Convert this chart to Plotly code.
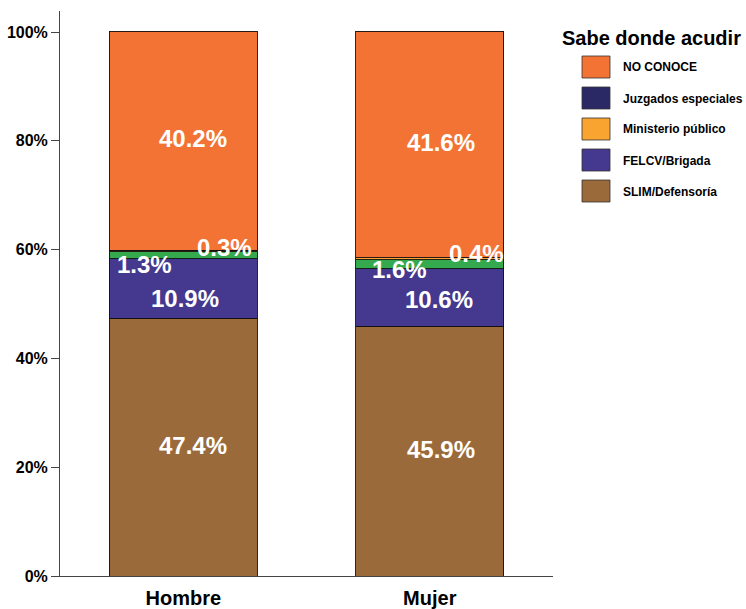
import plotly.graph_objects as go

# Data
groups = ["Hombre", "Mujer"]
slim = [47.4, 45.9]
felcv = [10.9, 10.6]
otros = [1.3, 1.6]
ministerio = [0.3, 0.4]
no_conoce = [40.2, 41.6]

y_ticks = [0, 20, 40, 60, 80, 100]
y_ticklabels = ["0%", "20%", "40%", "60%", "80%", "100%"]

legend_title = "Sabe donde acudir"
legend_names = ["NO CONOCE", "Juzgados especiales", "Ministerio público", "FELCV/Brigada", "SLIM/Defensoría"]
legend_colors = ["#F37335", "#2A2966", "#F9A431", "#45388F", "#9A6A3A"]

# Stack order (bottom to top)
series = [
    ("SLIM/Defensoría", slim, "#9A6A3A"),
    ("FELCV/Brigada", felcv, "#45388F"),
    ("Otros", otros, "#35A94E"),
    ("Ministerio público", ministerio, "#F9A431"),
    ("NO CONOCE", no_conoce, "#F37335"),
]

W, H = 746, 609
ml, mr, mt, mb = 60, 193, 11, 33
pw, ph = W - ml - mr, H - mt - mb


def px_to_paper(px, py):
    return (px - ml) / pw, (H - mb - py) / ph


fig = go.Figure()
for name, vals, col in series:
    fig.add_trace(go.Bar(
        x=groups, y=vals, name=name, width=0.6,
        marker=dict(color=col, line=dict(color="#111111", width=0.9)),
        showlegend=False, hoverinfo="skip",
    ))

# Label placement per series and group: (anchor, xshift px, yshift px)
label_style = {
    "SLIM/Defensoría": [("center", 10, 2), ("center", 11, 2)],
    "FELCV/Brigada": [("center", 2, -10), ("center", 9, -2)],
    "Otros": [("left", -68, -9), ("left", -60, -5)],
    "Ministerio público": [("right", 71, 3), ("right", 76, 5)],
    "NO CONOCE": [("center", 10, 2), ("center", 11, 2)],
}

annotations = []
base = [0.0] * len(groups)
for name, vals, col in series:
    for i, v in enumerate(vals):
        mid = base[i] + v / 2
        anchor, xs, ys = label_style[name][i]
        annotations.append(dict(
            x=i, y=mid, xref="x", yref="y", text=f"{v:.1f}%",
            showarrow=False, xanchor=anchor, yanchor="middle", xshift=xs, yshift=ys,
            font=dict(family="Liberation Sans", size=24, color="white", weight="bold"),
        ))
        base[i] += v

# Legend drawn in paper space
shapes = []
tx, ty = px_to_paper(560, 38)
annotations.append(dict(
    x=tx, y=ty, xref="paper", yref="paper", text=legend_title, showarrow=False,
    xanchor="left", yanchor="middle",
    font=dict(family="Liberation Sans", size=20, color="black", weight="bold"),
))
for k, (nm, col) in enumerate(zip(legend_names, legend_colors)):
    top = 56 + 31 * k
    x0, y1 = px_to_paper(582, top)
    x1, y0 = px_to_paper(610, top + 22)
    shapes.append(dict(type="rect", xref="paper", yref="paper", x0=x0, x1=x1, y0=y0, y1=y1,
                       fillcolor=col, line=dict(color="#333333", width=0.8)))
    lx, ly = px_to_paper(621, top + 11.5)
    annotations.append(dict(
        x=lx, y=ly, xref="paper", yref="paper", text=nm, showarrow=False,
        xanchor="left", yanchor="middle",
        font=dict(family="Liberation Sans", size=12, color="black", weight="bold"),
    ))

fig.update_layout(
    barmode="stack",
    width=W, height=H,
    margin=dict(l=ml, r=mr, t=mt, b=mb, autoexpand=False),
    plot_bgcolor="white", paper_bgcolor="white",
    showlegend=False,
    annotations=annotations,
    shapes=shapes,
)
fig.update_xaxes(
    range=[-0.5, 1.5], showline=True, linecolor="#444444", linewidth=1,
    ticks="", showgrid=False, automargin=False, ticklabelstandoff=4,
    tickfont=dict(family="Liberation Sans", size=20, color="black", weight="bold"),
)
fig.update_yaxes(
    range=[0, 103.86], tickvals=y_ticks, ticktext=y_ticklabels,
    showline=True, linecolor="#444444", linewidth=1, automargin=False,
    ticks="outside", ticklen=8, tickcolor="#444444", showgrid=False, zeroline=False,
    tickfont=dict(family="Liberation Sans", size=16, color="black", weight="bold"),
)

fig.write_html("out.html")
